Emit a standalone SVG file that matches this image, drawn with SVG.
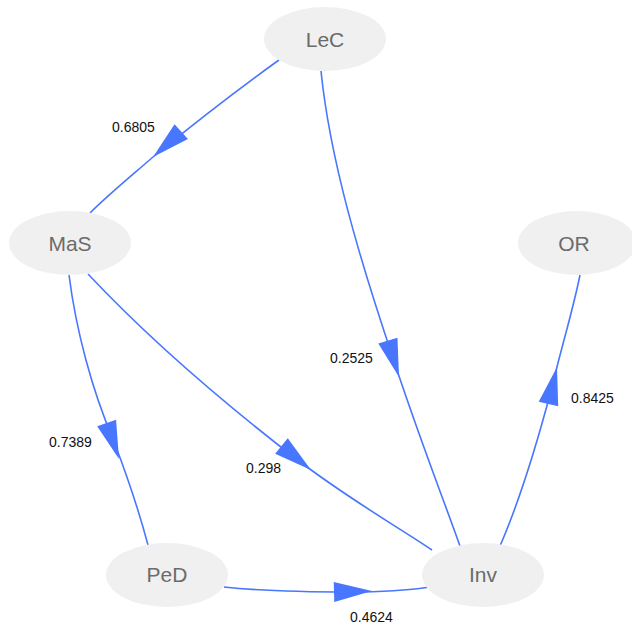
<svg xmlns="http://www.w3.org/2000/svg" width="632" height="625" viewBox="0 0 632 625">
  <style>
    .node ellipse { fill: #f0f0f0; stroke: none; }
    .node text { font-family: "Liberation Sans", Arial, sans-serif; font-size: 21px; fill: #6b6b6b; text-anchor: middle; }
    .edge path.line { fill: none; stroke: #4876ff; stroke-width: 1.6; }
    .edge use { fill: #4876ff; }
    .edge text { font-family: "Liberation Sans", Arial, sans-serif; font-size: 14px; fill: #111; }
  </style>
  <defs>
    <!-- arrowhead, tip at the origin, pointing along +x -->
    <path id="ah" d="M0,0 L-38,-10 L-38,10 Z"/>
  </defs>
  <rect width="632" height="625" fill="#ffffff"/>

  <g id="edges" class="edge">
    <!-- LeC -> MaS -->
    <path class="line" d="M279,60 C230,95 180,135 153,157 C130,177 108,195 90,213"/>
    <use href="#ah" transform="translate(153,157) rotate(138)"/>
    <text x="112" y="132">0.6805</text>

    <!-- LeC -> Inv -->
    <path class="line" d="M321,71 C330,160 360,260 393,358 C420,440 440,490 460,546"/>
    <use href="#ah" transform="translate(399,377) rotate(73)"/>
    <text x="330" y="363">0.2525</text>

    <!-- MaS -> PeD -->
    <path class="line" d="M69,275 C76,330 92,390 113,439 C128,478 140,515 148,545"/>
    <use href="#ah" transform="translate(119,459) rotate(71)"/>
    <text x="49" y="447">0.7389</text>

    <!-- MaS -> Inv -->
    <path class="line" d="M88,274 C150,340 220,400 295,458 C350,500 395,525 432,550"/>
    <use href="#ah" transform="translate(311,470) rotate(39)"/>
    <text x="246" y="473">0.298</text>

    <!-- PeD -> Inv -->
    <path class="line" d="M224,587 C270,592 320,592 350,592 C385,592 410,590 430,587"/>
    <use href="#ah" transform="translate(372,591) rotate(-1.5)"/>
    <text x="350" y="622">0.4624</text>

    <!-- Inv -> OR -->
    <path class="line" d="M500,546 C520,500 538,440 552,387 C562,345 573,310 580,275"/>
    <use href="#ah" transform="translate(557,367) rotate(-77)"/>
    <text x="571" y="403">0.8425</text>
  </g>

  <g id="LeC" class="node">
    <ellipse cx="325" cy="39" rx="61" ry="32"/>
    <text x="325" y="47">LeC</text>
  </g>
  <g id="MaS" class="node">
    <ellipse cx="70" cy="243" rx="61" ry="32"/>
    <text x="70" y="251">MaS</text>
  </g>
  <g id="OR" class="node">
    <ellipse cx="577" cy="243" rx="59" ry="32"/>
    <text x="574" y="251">OR</text>
  </g>
  <g id="PeD" class="node">
    <ellipse cx="167" cy="575" rx="61" ry="32"/>
    <text x="167" y="582">PeD</text>
  </g>
  <g id="Inv" class="node">
    <ellipse cx="483" cy="575" rx="61" ry="32"/>
    <text x="483" y="582">Inv</text>
  </g>
</svg>
